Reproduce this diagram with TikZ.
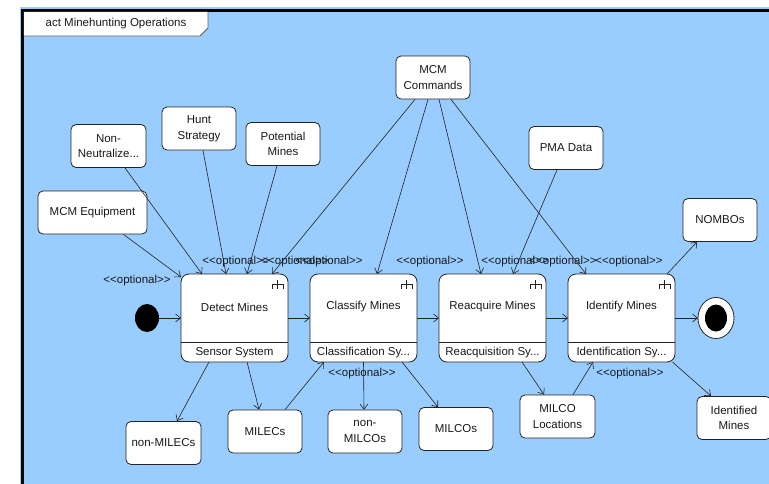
\documentclass[tikz,border=0pt]{standalone}
\usepackage{fontspec}
\setmainfont{Liberation Sans}
\usetikzlibrary{
  shapes.geometric,
  arrows.meta,
  positioning
}
\definecolor{framebg}{RGB}{153, 204, 255}
\definecolor{inkline}{RGB}{35, 35, 35}
\definecolor{inktext}{RGB}{25, 25, 25}
\definecolor{tabline}{RGB}{95, 95, 95}
% stereotype text, kerns keep << and >> as plain signs
\newcommand{\stereoopt}{<\kern0pt<optional>\kern0pt>}
\tikzset{
  action/.style = {
    rectangle, rounded corners=8pt,
    draw=inkline, line width=0.8pt, fill=white,
    minimum width=107pt, minimum height=88pt,
    inner sep=0pt, outer sep=0pt
  },
  acttext/.style = {
    font=\fontsize{11.5}{14}\selectfont, text=inktext, inner sep=1pt
  },
  objbox/.style = {
    rectangle, rounded corners=5pt,
    draw=inkline, line width=0.8pt, fill=white,
    minimum width=#1, minimum height=43pt, align=center,
    font=\fontsize{11.5}{15.5}\selectfont, text=inktext, inner sep=2pt
  },
  objbox/.default = 74pt,
  initnode/.style = {
    ellipse, fill=black, minimum width=24pt, minimum height=28pt,
    inner sep=0pt, outer sep=0pt
  },
  finalnode/.style = {
    ellipse, draw=inkline, line width=0.8pt, fill=white,
    minimum width=36pt, minimum height=41pt, inner sep=0pt, outer sep=0pt
  },
  finaldot/.style = {
    ellipse, fill=black, minimum width=22pt, minimum height=27pt, inner sep=0pt
  },
  flow/.style = {-{Straight Barb[length=5pt, width=8pt]}, draw=inkline, line width=0.6pt},
  stereo/.style = {font=\fontsize{11.5}{14}\selectfont, text=inktext, inner sep=0pt},
  rake/.pic = {
    \draw[inkline, line width=0.6pt] (-5.5,0) -- (5.5,0)
      (-5.5,0) -- (-5.5,-5) (0,4) -- (0,-5) (5.5,0) -- (5.5,-5);
  },
}

\begin{document}
\begin{tikzpicture}[x=1pt, y=1pt]

  \path[use as bounding box] (0,0) rectangle (769,-483);
  \clip (0,0) rectangle (769,-483);
  \fill[white] (0,0) rectangle (769,-483);

  % activity frame
  \fill[framebg] (20,-7) rectangle (790,-500);
  \draw[black, line width=2.5pt] (22.5,-10.5) rectangle (790,-500);
  \fill[white] (23.75,-11.75) -- (208,-11.75) -- (208,-28) -- (200,-36)
    -- (23.75,-36) -- cycle;
  \draw[tabline, line width=0.8pt] (208,-11.75) -- (208,-28) -- (200,-36) -- (23.75,-36);
  \node[acttext] (frametitle) at (116,-24) {act Minehunting Operations};

  % actions
  \node[action] (detect) at (234.5,-318) {};
  \node[action, right=22pt of detect] (classify) {};
  \node[action, right=22pt of classify] (reacquire) {};
  \node[action, right=22pt of reacquire] (identify) {};

  \foreach \a in {detect, classify, reacquire, identify} {
    \draw[inkline, line width=0.8pt]
      ([yshift=20pt]\a.south west) -- ([yshift=20pt]\a.south east);
    \pic at ([xshift=-10.5pt, yshift=-10pt]\a.north east) {rake};
  }

  \node[acttext] (detect-name) at ([yshift=-33pt]detect.north) {Detect Mines};
  \node[acttext] (detect-part) at ([yshift=9.5pt]detect.south) {Sensor System};
  \node[acttext] (classify-name) at ([yshift=-33pt]classify.north) {Classify Mines};
  \node[acttext] (classify-part) at ([yshift=9.5pt]classify.south) {Classification Sy...};
  \node[acttext] (reacquire-name) at ([yshift=-33pt]reacquire.north) {Reacquire Mines};
  \node[acttext] (reacquire-part) at ([yshift=9.5pt]reacquire.south) {Reacquisition Sy...};
  \node[acttext] (identify-name) at ([yshift=-33pt]identify.north) {Identify Mines};
  \node[acttext] (identify-part) at ([yshift=9.5pt]identify.south) {Identification Sy...};

  % start and end
  \node[initnode, left=22pt of detect] (start) {};
  \node[finalnode, right=23pt of identify] (finish) {};
  \node[finaldot] (finish-dot) at (finish.center) {};

  % object nodes
  \node[objbox=109pt] (mcmequip) at (92.5,-212.5) {MCM Equipment};
  \node[objbox=75pt] (nonneut) at (108.5,-146) {Non-\\Neutralize...};
  \node[objbox] (hunt) at (199,-128.5) {Hunt\\Strategy};
  \node[objbox] (potential) at (283,-144) {Potential\\Mines};
  \node[objbox] (mcmcmd) at (433,-77.5) {MCM\\Commands};
  \node[objbox] (pma) at (566,-148) {PMA Data};
  \node[objbox] (nombos) at (720,-220) {NOMBOs};
  \node[objbox=75pt] (nonmilecs) at (163.5,-443) {non-MILECs};
  \node[objbox] (milecs) at (265,-431.5) {MILECs};
  \node[objbox] (nonmilcos) at (365,-431.5) {non-\\MILCOs};
  \node[objbox] (milcos) at (456,-429) {MILCOs};
  \node[objbox=75pt] (milcoloc) at (557.5,-416.5) {MILCO\\Locations};
  \node[objbox] (identified) at (734,-418) {Identified\\Mines};

  % control flow
  \draw[flow] (start) -- (detect);
  \draw[flow] (detect) -- (classify);
  \draw[flow] (classify) -- (reacquire);
  \draw[flow] (reacquire) -- (identify);
  \draw[flow] (identify) -- (finish);

  % object flows into the actions
  \draw[flow] ([xshift=31pt]mcmequip.south) -- ([yshift=-3pt]detect.north west);
  \draw[flow] ([xshift=16.5pt]nonneut.south) -- ([xshift=-32.5pt]detect.north);
  \draw[flow] ([xshift=4pt]hunt.south) -- ([xshift=-8.5pt]detect.north);
  \draw[flow] ([xshift=-6pt]potential.south) -- ([xshift=12.5pt]detect.north);
  \draw[flow] ([xshift=-18pt]mcmcmd.south) -- ([xshift=37.5pt]detect.north);
  \draw[flow] ([xshift=-5pt]mcmcmd.south) -- ([xshift=13.5pt]classify.north);
  \draw[flow] ([xshift=6pt]mcmcmd.south) -- ([xshift=-11.5pt]reacquire.north);
  \draw[flow] ([xshift=18pt]mcmcmd.south) -- ([xshift=-35.5pt]identify.north);
  \draw[flow] ([xshift=-9pt]pma.south) -- ([xshift=20.5pt]reacquire.north);
  \draw[flow] ([xshift=20pt]milecs.north) -- ([xshift=-39.5pt]classify.south);
  \draw[flow] ([xshift=15.5pt]milcoloc.north) -- ([xshift=-28.5pt]identify.south);

  % object flows out of the actions
  \draw[flow] ([xshift=45.5pt]identify.north) -- ([xshift=-23pt]nombos.south);
  \draw[flow] ([xshift=-25.5pt]detect.south) -- ([xshift=13.5pt]nonmilecs.north);
  \draw[flow] ([xshift=12.5pt]detect.south) -- ([xshift=-6pt]milecs.north);
  \draw[flow] (classify.south) -- ([xshift=-1pt]nonmilcos.north);
  \draw[flow] ([xshift=38.5pt]classify.south) -- ([xshift=-18pt]milcos.north);
  \draw[flow] ([xshift=29.5pt]reacquire.south) -- ([xshift=-13.5pt]milcoloc.north);
  \draw[flow] ([xshift=51pt]identify.south) -- ([xshift=-23pt]identified.north);

  % stereotype labels
  \node[stereo] (opt-equip) at (137,-281) {\stereoopt};
  \node[stereo] (opt-d1) at (236,-262) {\stereoopt};
  \node[stereo] (opt-d2) at (295,-262) {\stereoopt};
  \node[stereo] (opt-d3) at (329,-262) {\stereoopt};
  \node[stereo] (opt-c1) at (430,-262) {\stereoopt};
  \node[stereo] (opt-r1) at (515,-262) {\stereoopt};
  \node[stereo] (opt-r2) at (563,-262) {\stereoopt};
  \node[stereo] (opt-i1) at (629,-262) {\stereoopt};
  \node[stereo] (opt-c2) at (362,-374) {\stereoopt};
  \node[stereo] (opt-i2) at (630,-374) {\stereoopt};

\end{tikzpicture}
\end{document}
